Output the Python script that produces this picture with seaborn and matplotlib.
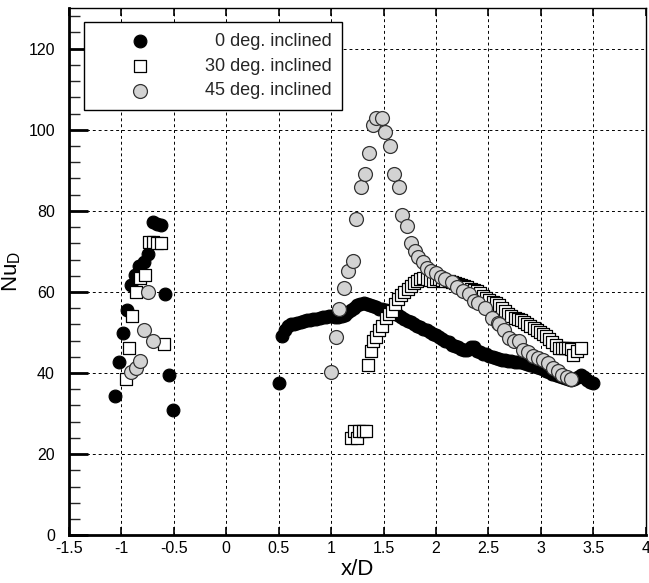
"""
Nusselt number along x/D for three jet inclinations, scatter comparison.
"""

import matplotlib

matplotlib.use("Agg")

import matplotlib.pyplot as plt
import pandas as pd
import seaborn as sns
from matplotlib.ticker import MultipleLocator

# ---- data ----
labels = ["\u20070 deg. inclined", "30 deg. inclined", "45 deg. inclined"]

x_0deg = [
    -1.06, -1.02, -0.985, -0.943, -0.909, -0.871, -0.826, -0.781, -0.743, -0.70,
    -0.662, -0.62, -0.582, -0.541, -0.503,
    0.50,
    0.53, 0.56, 0.59, 0.62, 0.65, 0.68, 0.71, 0.74, 0.77, 0.80,
    0.83, 0.86, 0.89, 0.92, 0.95, 0.98, 1.01, 1.04, 1.07, 1.10,
    1.13, 1.16, 1.19, 1.22, 1.25, 1.28, 1.31, 1.34, 1.37, 1.40,
    1.43, 1.46, 1.49, 1.52, 1.55, 1.58, 1.61, 1.64, 1.67, 1.70,
    1.73, 1.76, 1.79, 1.82, 1.85, 1.88, 1.91, 1.94, 1.97, 2.00,
    2.03, 2.06, 2.09, 2.12, 2.15, 2.18, 2.21, 2.24, 2.27, 2.30,
    2.33, 2.36, 2.39, 2.42, 2.45, 2.48, 2.51, 2.54, 2.57, 2.60,
    2.63, 2.66, 2.69, 2.72, 2.75, 2.78, 2.81, 2.84, 2.87, 2.90,
    2.93, 2.96, 2.99, 3.02, 3.05, 3.08, 3.11, 3.14, 3.17, 3.20,
    3.23, 3.26, 3.29, 3.32, 3.35, 3.38, 3.41, 3.44, 3.47, 3.50,
]
nu_0deg = [
    34.4, 42.7, 49.8, 55.6, 61.6, 64.2, 66.3, 67.4, 69.4, 77.2,
    76.7, 76.5, 59.6, 39.5, 30.9,
    37.5,
    49.1, 50.6, 51.5, 52.0, 52.2, 52.4, 52.6, 52.8, 53.0, 53.1,
    53.3, 53.4, 53.5, 53.7, 53.9, 54.0, 54.0, 53.9, 53.9, 54.0,
    54.4, 55.0, 55.5, 56.1, 56.7, 57.1, 57.3, 57.1, 56.9, 56.6,
    56.2, 55.9, 55.7, 55.5, 55.2, 54.9, 54.7, 54.2, 53.8, 53.4,
    52.9, 52.6, 52.2, 51.7, 51.3, 50.9, 50.5, 50.1, 49.6, 49.3,
    48.9, 48.4, 48.0, 47.6, 47.0, 46.7, 46.3, 46.0, 45.8, 45.7,
    46.4, 46.3, 45.5, 45.1, 44.8, 44.6, 44.3, 44.0, 43.7, 43.5,
    43.3, 43.2, 43.0, 42.9, 42.8, 42.7, 42.6, 42.4, 42.2, 42.0,
    41.8, 41.6, 41.3, 41.0, 40.6, 40.2, 39.8, 39.6, 39.3, 39.0,
    38.8, 38.5, 38.4, 38.6, 38.9, 39.4, 38.9, 38.2, 37.8, 37.5,
]

x_30deg = [
    -0.952, -0.924, -0.893, -0.861, -0.817, -0.776, -0.734, -0.70, -0.662, -0.62,
    -0.595,
    1.19, 1.22, 1.25, 1.27, 1.30, 1.33,
    1.35, 1.38, 1.40, 1.43, 1.46, 1.49, 1.52, 1.55, 1.58, 1.61,
    1.64, 1.67, 1.70, 1.73, 1.76, 1.79, 1.82, 1.85, 1.88, 1.91,
    1.94, 1.97, 2.00, 2.03, 2.06, 2.09, 2.12, 2.15, 2.18, 2.21,
    2.24, 2.27, 2.30, 2.33, 2.36, 2.39, 2.42, 2.45, 2.48, 2.51,
    2.54, 2.57, 2.60, 2.63, 2.66, 2.69, 2.72, 2.75, 2.78, 2.81,
    2.84, 2.87, 2.90, 2.93, 2.96, 2.99, 3.02, 3.05, 3.08, 3.11,
    3.14, 3.17, 3.20, 3.23, 3.26, 3.29, 3.31, 3.34, 3.38,
]
nu_30deg = [
    38.5, 46.2, 54.0, 60.0, 63.5, 64.3, 72.2, 72.2, 72.0, 72.0,
    47.2,
    24.0, 25.8, 24.0, 25.8, 25.8, 25.8,
    42.1, 45.5, 47.8, 49.0, 50.5, 51.6, 53.6, 54.5, 55.3, 57.0,
    58.2, 59.2, 60.0, 60.8, 61.5, 62.1, 62.7, 63.2, 63.4, 63.2,
    62.9, 62.8, 63.2, 63.3, 63.0, 62.8, 62.7, 62.5, 62.3, 62.0,
    61.7, 61.4, 61.1, 60.8, 60.6, 60.2, 59.7, 59.0, 58.5, 58.0,
    57.6, 57.2, 56.7, 56.1, 55.3, 54.6, 54.0, 53.6, 53.3, 53.0,
    52.5, 52.0, 51.6, 51.1, 50.6, 50.0, 49.6, 49.1, 48.4, 47.6,
    46.8, 46.2, 46.2, 46.2, 46.2, 46.0, 44.5, 45.5, 46.2,
]

x_45deg = [
    -0.905, -0.864, -0.823, -0.781, -0.743, -0.70,
    1.00, 1.044, 1.075, 1.123, 1.158, 1.205, 1.24, 1.281, 1.322, 1.363,
    1.398, 1.427, 1.481, 1.519, 1.563, 1.601, 1.643, 1.681, 1.725, 1.76,
    1.798, 1.833, 1.874, 1.915, 1.956, 2.00, 2.045, 2.09, 2.152, 2.20,
    2.254, 2.311, 2.358, 2.405, 2.47, 2.53, 2.595, 2.605, 2.65, 2.70,
    2.748, 2.796, 2.834, 2.881, 2.929, 2.976, 3.024, 3.071, 3.119, 3.16,
    3.204, 3.245, 3.287,
]
nu_45deg = [
    40.2, 41.2, 42.9, 50.6, 60.0, 48.0,
    40.3, 48.9, 55.7, 60.9, 65.1, 67.6, 78.0, 85.8, 89.2, 94.3,
    101.1, 102.9, 102.9, 99.4, 96.0, 89.2, 85.8, 79.0, 76.3, 72.0,
    70.1, 68.7, 67.3, 66.0, 65.2, 64.6, 63.8, 63.1, 62.5, 61.1,
    60.2, 59.4, 57.7, 57.3, 56.1, 53.6, 52.4, 52.2, 50.7, 48.7,
    48.0, 48.0, 45.8, 45.1, 44.3, 43.7, 43.1, 42.5, 41.3, 40.4,
    39.6, 39.0, 38.5,
]

sns.set_theme(style="white")
plt.rcParams["font.family"] = ["Liberation Sans", "DejaVu Sans"]
plt.rcParams["mathtext.fontset"] = "custom"
plt.rcParams["mathtext.rm"] = "Liberation Sans"
plt.rcParams["mathtext.it"] = "Liberation Sans"

fig = plt.figure(figsize=(6.49, 5.83), dpi=100)
ax = fig.add_axes([0.106, 0.082, 0.889, 0.904])

df0 = pd.DataFrame({"x": x_0deg, "nu": nu_0deg})
df30 = pd.DataFrame({"x": x_30deg, "nu": nu_30deg})
df45 = pd.DataFrame({"x": x_45deg, "nu": nu_45deg})

sns.scatterplot(data=df0, x="x", y="nu", ax=ax, marker="o", s=85,
                color="black", edgecolor="black", linewidth=0.8,
                label=labels[0], zorder=3)
sns.scatterplot(data=df30, x="x", y="nu", ax=ax, marker="s", s=80,
                color="white", edgecolor="black", linewidth=0.9,
                label=labels[1], zorder=4)
sns.scatterplot(data=df45, x="x", y="nu", ax=ax, marker="o", s=100,
                color="#d3d3d3", edgecolor="#333333", linewidth=0.9,
                label=labels[2], zorder=5)

ax.set_xlim(-1.5, 4)
ax.set_ylim(0, 130)
ax.yaxis.set_major_locator(MultipleLocator(20))
ax.yaxis.set_minor_locator(MultipleLocator(4))
ax.set_xticks([-1.5, -1, -0.5, 0, 0.5, 1, 1.5, 2, 2.5, 3, 3.5, 4])
ax.set_xticklabels(["-1.5", "-1", "-0.5", "0", "0.5", "1", "1.5", "2", "2.5", "3", "3.5", "4"])

ax.grid(True, which="major", color="black", linestyle=(0, (3, 3)), linewidth=0.7)
ax.set_axisbelow(True)

ax.tick_params(axis="x", which="major", direction="in", length=6, width=1.2,
               top=True, bottom=True, labelsize=11.5, pad=4, colors="black")
ax.tick_params(axis="y", which="major", direction="in", length=14, width=2,
               left=True, right=False, labelsize=11.5, pad=10, colors="black")
ax.tick_params(axis="y", which="minor", direction="in", length=8, width=1,
               left=True, right=False)

for side in ["left", "bottom"]:
    ax.spines[side].set_linewidth(2)
for side in ["top", "right"]:
    ax.spines[side].set_linewidth(1)
for sp in ax.spines.values():
    sp.set_color("black")

ax.set_xlabel("x/D", fontsize=16, labelpad=2, color="black")
ax.set_ylabel("Nu$_\\mathregular{D}$", fontsize=16, labelpad=4, color="black")

leg = ax.legend(loc="upper left", bbox_to_anchor=(0.026, 0.973), fontsize=13,
                frameon=True, fancybox=False, framealpha=1, edgecolor="black",
                handlelength=5.0, handletextpad=1.1, borderpad=0.6,
                labelspacing=0.42, borderaxespad=0)
leg.get_frame().set_linewidth(1)

fig.savefig("out.png", dpi=100)
